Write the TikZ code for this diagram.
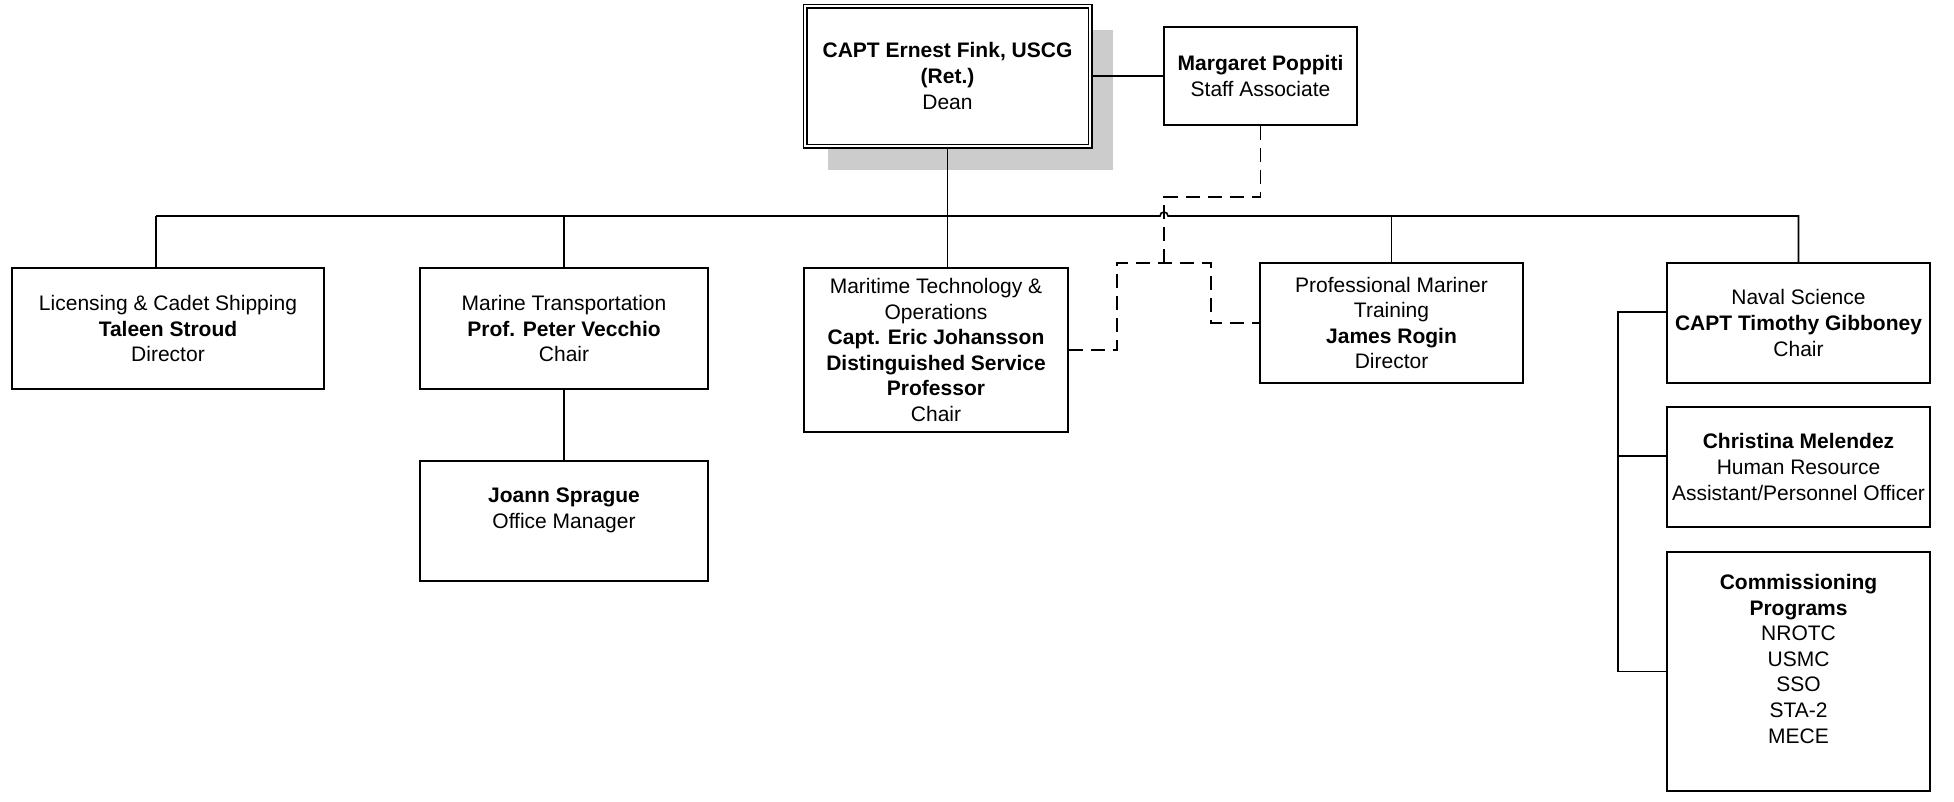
\documentclass[tikz,border=0pt]{standalone}
\usepackage{fontspec}
\setmainfont{Liberation Sans}
\usetikzlibrary{shadows}

\begin{document}
\begin{tikzpicture}[x=1pt, y=-1pt,
	box/.style={draw, fill=white, line width=1.6pt, align=center, inner sep=0pt,
		font=\fontsize{21pt}{25.6pt}\selectfont},
	deanbox/.style={box, double, double distance=2.6pt, line width=1.2pt,
		drop shadow={shadow xshift=23pt, shadow yshift=-24pt, fill=black!20, opacity=1}},
	wire/.style={line width=1.6pt},
	dashwire/.style={line width=1.6pt, dash pattern=on 14pt off 8pt}]
				\useasboundingbox (0,0) rectangle (1954,801);
				% Boxes:
				\node[deanbox, minimum width=285pt, minimum height=140pt] (dean) at (947.5,76)
					{\textbf{CAPT Ernest Fink, USCG}\\\textbf{(Ret.)}\\Dean};
				\node[box, minimum width=193pt, minimum height=98pt] (marg) at (1260.5,76)
					{\textbf{Margaret Poppiti}\\Staff Associate};
				\node[box, minimum width=312pt, minimum height=121pt] (lic) at (168,328.5)
					{Licensing \& Cadet Shipping\\\textbf{Taleen Stroud}\\Director};
				\node[box, minimum width=288pt, minimum height=121pt] (mar) at (564,328.5)
					{Marine Transportation\\\textbf{Prof. Peter Vecchio}\\Chair};
				\node[box, minimum width=288pt, minimum height=120pt] (joann) at (564,521)
					{\textbf{Joann Sprague}\\Office Manager\\\mbox{}};
				\node[box, minimum width=264pt, minimum height=164pt] (mto) at (936,350)
					{Maritime Technology \&\\Operations\\\textbf{Capt. Eric Johansson}\\\textbf{Distinguished Service}\\\textbf{Professor}\\Chair};
				\node[box, minimum width=263pt, minimum height=120pt] (pmt) at (1391.5,323)
					{Professional Mariner\\Training\\\textbf{James Rogin}\\Director};
				\node[box, minimum width=263pt, minimum height=120pt] (naval) at (1798.5,323)
					{Naval Science\\\textbf{CAPT Timothy Gibboney}\\Chair};
				\node[box, minimum width=263pt, minimum height=120pt] (chris) at (1798.5,467)
					{\textbf{Christina Melendez}\\Human Resource\\Assistant/Personnel Officer};
				\node[box, minimum width=263pt, minimum height=239pt] (comm) at (1798.5,671.5)
					{\textbf{Commissioning}\\\textbf{Programs}\\NROTC\\USMC\\SSO\\STA-2\\MECE\\\mbox{}};
				% Solid wires:
				\coordinate (busL) at (156,216);
				\coordinate (hop) at (1164,216);
				\draw[wire] (dean.east) -- (marg.west);
				\draw[wire] (dean.south) -- (dean.south |- mto.north);
				\draw[wire] (busL) -- ([xshift=-4pt]hop) arc[start angle=180, end angle=0, radius=4pt]
					-- (naval.north |- busL) -- (naval.north);
				\draw[wire] (busL) -- (busL |- lic.north);
				\draw[wire] (mar.north |- busL) -- (mar.north);
				\draw[wire] (mar.south) -- (joann.north);
				\draw[wire] (pmt.north |- busL) -- (pmt.north);
				\draw[wire] ([yshift=11pt]naval.west) -- ++(-48,0) |- (comm.west);
				\draw[wire] ([yshift=11pt]chris.west) -- ++(-48,0);
				% Dashed wires:
				\coordinate (dL) at (1117,263);
				\coordinate (dR) at (1211,263);
				\draw[dashwire] (marg.south) |- (1164,197) -- (hop |- dL);
				\draw[dashwire] (mto.east) -| (dL) -- (dR) |- (pmt.west);
			\end{tikzpicture}
\end{document}
